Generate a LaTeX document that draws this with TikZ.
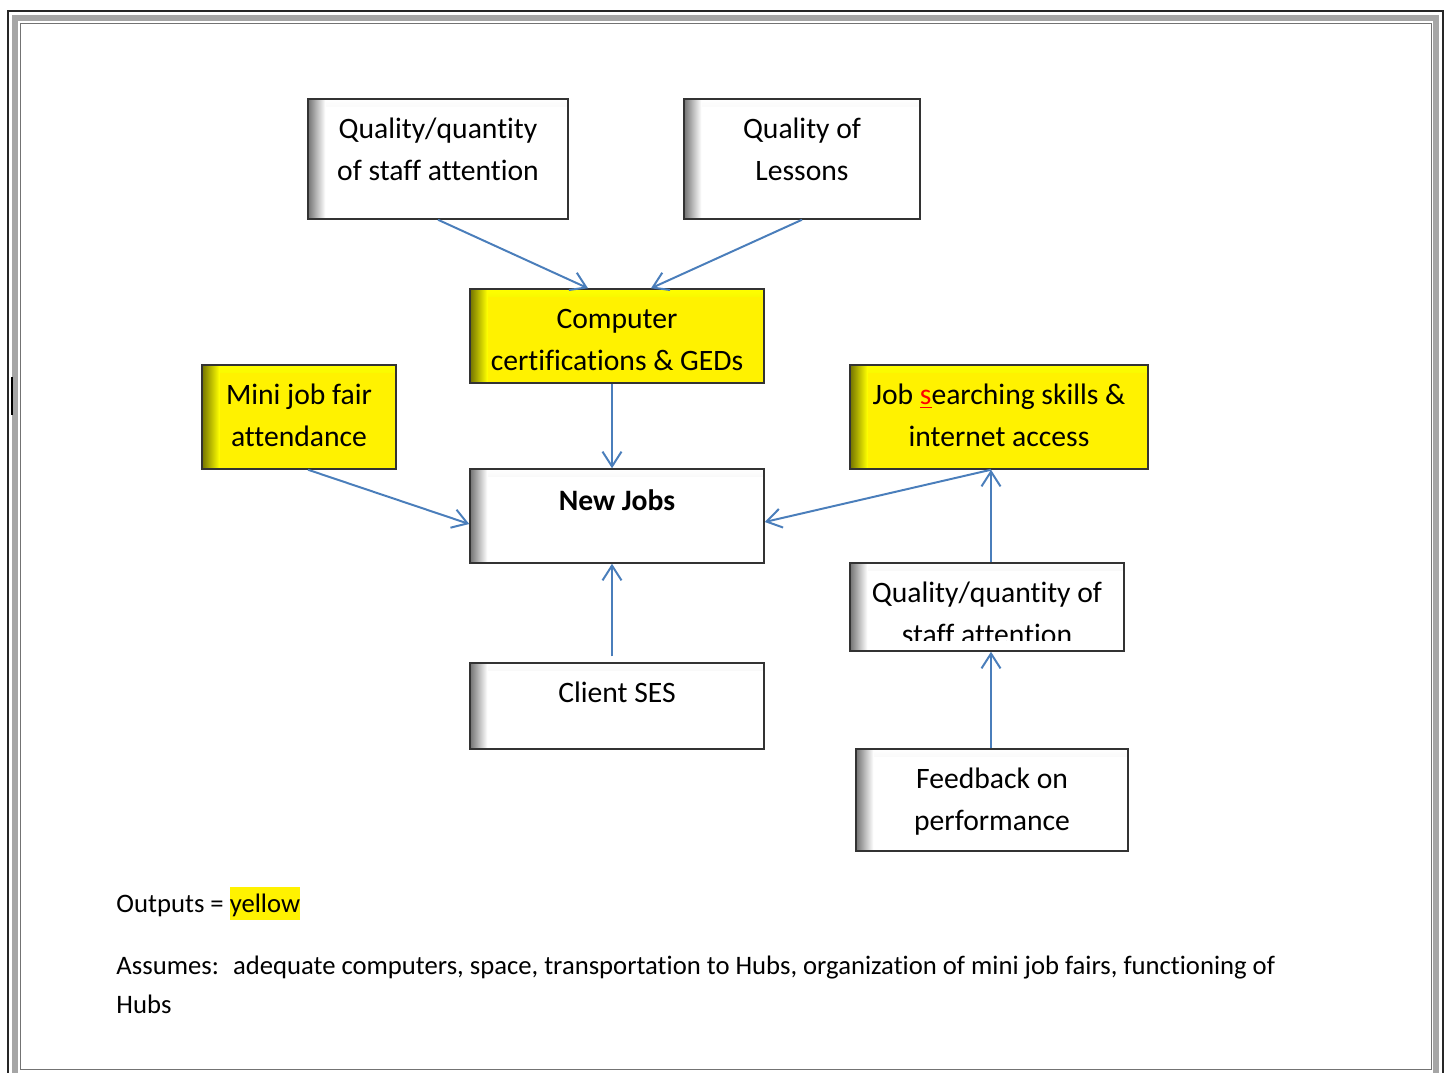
\documentclass[tikz,border=0pt]{standalone}
\usepackage{fontspec}
\setmainfont{Carlito}[Ligatures={NoCommon}]
\usepackage{xcolor}
\usetikzlibrary{calc}
\usetikzlibrary{arrows.meta}
\definecolor{linkblue}{RGB}{74,126,187}
\begin{document}
\begin{tikzpicture}[x=0.405pt, y=-0.405pt,
    box/.style={draw=black!80, line width=0.6pt, fill=#1, inner sep=0pt,
      path picture={
        \shade[top color=#1, bottom color=#1!70!black]
          (path picture bounding box.north west) rectangle ([yshift=-3pt]path picture bounding box.north east);
        \shade[left color=#1!45!black, right color=#1]
          (path picture bounding box.north west) rectangle ([xshift=7pt]path picture bounding box.south west);}},
    box/.default=white,
    boxsize/.style 2 args={minimum width=#1*0.405pt, minimum height=#2*0.405pt},
    txt/.style={font=\fontsize{12}{17}\selectfont, align=center, anchor=base, inner sep=0pt},
    note/.style={font=\fontsize{10.8}{15.4}\selectfont, align=left, anchor=base west, inner sep=0pt},
    link/.style={draw=linkblue, line width=0.8pt, -{Straight Barb[length=6pt,width=7.7pt]}}]
  \useasboundingbox (0,0) rectangle (1449,1072);
  % page frame
  \draw[black!85, line width=1pt] (8,11) rectangle (1443,1085);
  \draw[black!35, line width=2.4pt] (15,18) rectangle (1436,1076);
  \draw[black!55, line width=0.4pt] (20,23) rectangle (1431,1069);
  \draw[line width=0.7pt] (12,377) -- (12,415);

  % boxes
  \node[box, boxsize={260}{120}] (staff1) at (438,159) {};
  \node[box, boxsize={236}{120}] (lessons) at (802,159) {};
  \node[box=yellow, boxsize={294}{94}] (comp) at (617,336) {};
  \node[box=yellow, boxsize={194}{104}] (mini) at (299,417) {};
  \node[box=yellow, boxsize={298}{104}] (search) at (999,417) {};
  \node[box, boxsize={294}{94}] (jobs) at (617,516) {};
  \node[box, boxsize={274}{88}] (staff2) at (987,607) {};
  \node[box, boxsize={294}{86}] (ses) at (617,706) {};
  \node[box, boxsize={272}{102}] (feedback) at (992,800) {};

  % box texts (base = last line)
  \node[txt] (staff1-t) at ($(staff1.north)+(0,82)$) {Quality/quantity\\of staff attention};
  \node[txt] (lessons-t) at ($(lessons.north)+(0,82)$) {Quality of\\Lessons};
  \node[txt] (comp-t) at ($(comp.north)+(0,82)$) {Computer\\certifications \& GEDs};
  \node[txt] (mini-t) at ($(mini.north)+(0,82)$) {Mini job fair\\attendance};
  \node[txt] (search-t) at ($(search.north)+(0,82)$)
    {Job {\color{red}\underline{s}}earching skills \&\\internet access};
  \node[txt, font=\fontsize{12}{17}\selectfont\bfseries] (jobs-t) at ($(jobs.north)+(0,42)$) {New Jobs};
  \begin{scope}
    \clip (staff2.north west) rectangle ($(staff2.south east)+(0,-11)$);
    \node[txt] (staff2-t) at ($(staff2.north)+(0,82)$) {Quality/quantity of\\staff attention};
  \end{scope}
  \node[txt] (ses-t) at ($(ses.north)+(0,40)$) {Client SES};
  \node[txt] (feedback-t) at ($(feedback.north)+(0,82)$) {Feedback on\\performance};

  % connectors
  \draw[link] (staff1.south) -- ($(comp.north)+(-29,0)$);
  \draw[link] (lessons.south) -- ($(comp.north)+(34,0)$);
  \draw[link] ($(comp.south)+(-5,0)$) -- ($(jobs.north)+(-5,0)$);
  \draw[link] ($(mini.south)+(9,0)$) -- ($(jobs.west)+(0,8)$);
  \draw[link] ($(search.south)+(-8,0)$) -- ($(jobs.east)+(0,6)$);
  \draw[link] ($(staff2.north)+(4,0)$) -- ($(search.south)+(-8,0)$);
  \draw[link] ($(ses.north)+(-5,-6)$) -- ($(jobs.south)+(-5,0)$);
  \draw[link] ($(feedback.north)+(-1,0)$) -- ($(staff2.south)+(4,0)$);

  % notes
  \node[note] (outputs) at (116,912)
    {Outputs = {\setlength{\fboxsep}{0pt}\colorbox{yellow}{\rule[-3.4pt]{0pt}{13.4pt}yellow}}};
  \node[note] (assumes) at (116,1013)
    {Assumes:~ adequate computers, space, transportation to Hubs, organization of mini job fairs, functioning of\\Hubs};
\end{tikzpicture}
\end{document}
